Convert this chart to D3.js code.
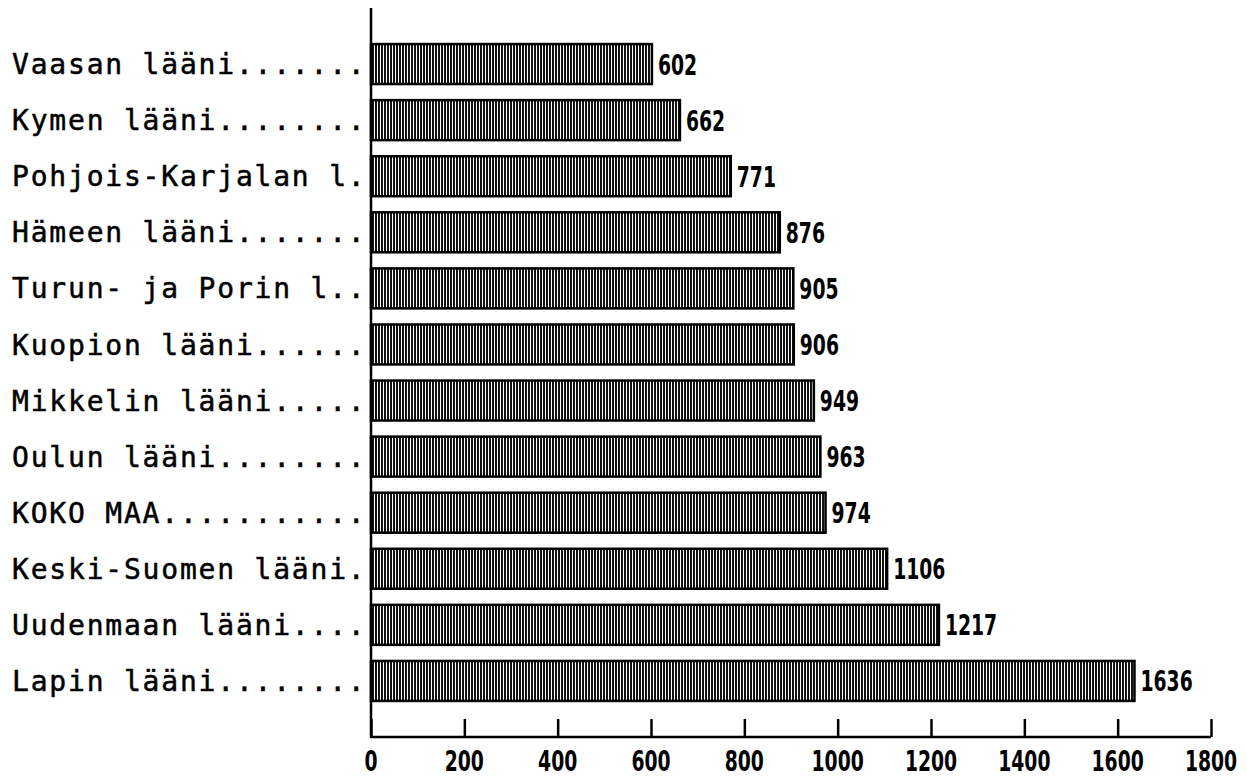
<!DOCTYPE html>
<html>
<head>
<meta charset="utf-8">
<script src="https://cdn.jsdelivr.net/npm/d3@7"></script>
<style>
  body { margin: 0; background: #fff; overflow: hidden; }
  .lab { font-family: "DejaVu Sans Mono", monospace; font-size: 28px; letter-spacing: 1.8px; fill: #000; stroke: #000; stroke-width: 0.5px; }
  .num { font-family: "Liberation Sans Narrow", "DejaVu Sans Condensed", sans-serif; font-weight: bold; font-size: 29px; fill: #000; }
</style>
</head>
<body>
<div id="chart"></div>
<script>
// regions (top to bottom) and values
var regions = ["Vaasan lääni.......", "Kymen lääni........", "Pohjois-Karjalan l.",
  "Hämeen lääni.......", "Turun- ja Porin l..", "Kuopion lääni......",
  "Mikkelin lääni.....", "Oulun lääni........", "KOKO MAA...........",
  "Keski-Suomen lääni.", "Uudenmaan lääni....", "Lapin lääni........"];
var values = [602, 662, 771, 876, 905, 906, 949, 963, 974, 1106, 1217, 1636];
var ticks = [0, 200, 400, 600, 800, 1000, 1200, 1400, 1600, 1800];

var width = 1247, height = 780;
var x0 = 371, x1 = 1211, yTop = 8, yBase = 737;

var data = regions.map(function(r, i) { return {name: r, value: values[i]}; });

var svg = d3.select("#chart").append("svg")
  .attr("width", width)
  .attr("height", height)
  .style("display", "block");

// vertical stripe fill for the bars
var pat = svg.append("defs").append("pattern")
  .attr("id", "stripes")
  .attr("patternUnits", "userSpaceOnUse")
  .attr("width", 3).attr("height", 10);
pat.append("rect").attr("width", 3).attr("height", 10).attr("fill", "#fff");
pat.append("rect").attr("width", 2).attr("height", 10).attr("fill", "#111");

var x = d3.scaleLinear().domain([0, 1800]).range([x0, x1]);

var y = d3.scaleBand()
  .domain(regions)
  .range([yTop, yBase])
  .paddingInner(0.287)
  .paddingOuter(0.643);

// bars
svg.selectAll(".bar")
  .data(data)
  .enter().append("rect")
  .attr("class", "bar")
  .attr("x", x(0))
  .attr("y", function(d) { return y(d.name); })
  .attr("width", function(d) { return x(d.value) - x(0); })
  .attr("height", y.bandwidth())
  .attr("fill", "url(#stripes)")
  .attr("stroke", "#000")
  .attr("stroke-width", 2.5);

// value labels
svg.selectAll(".num-v")
  .data(data)
  .enter().append("text")
  .attr("class", "num")
  .attr("transform", function(d) {
    return "translate(" + (x(d.value) + 6) + "," + (y(d.name) + y.bandwidth() / 2) + ") scale(0.72,1)";
  })
  .attr("dy", "0.36em")
  .text(function(d) { return d.value; });

// category labels
svg.selectAll(".lab")
  .data(data)
  .enter().append("text")
  .attr("class", "lab")
  .attr("x", 12)
  .attr("y", function(d) { return y(d.name) + y.bandwidth() / 2; })
  .attr("dy", "0.36em")
  .text(function(d) { return d.name; });

// x axis: baseline with ticks pointing up
var xAxis = svg.append("g")
  .attr("transform", "translate(0," + yBase + ")")
  .call(d3.axisBottom(x).tickValues(ticks).tickSize(-18).tickFormat(""));
xAxis.select(".domain").attr("d", "M" + x0 + ",0H" + x1).attr("stroke", "#000").attr("stroke-width", 2.5);
xAxis.selectAll(".tick line").attr("stroke", "#000").attr("stroke-width", 2.5);

// tick labels
svg.selectAll(".num-t")
  .data(ticks)
  .enter().append("text")
  .attr("class", "num")
  .attr("text-anchor", "middle")
  .attr("transform", function(d) { return "translate(" + x(d) + ",761) scale(0.72,1)"; })
  .attr("dy", "0.36em")
  .text(function(d) { return d; });

// y axis line
svg.append("line")
  .attr("x1", x0).attr("x2", x0)
  .attr("y1", yTop).attr("y2", yBase + 1)
  .attr("stroke", "#000")
  .attr("stroke-width", 2.5);
</script>
</body>
</html>
